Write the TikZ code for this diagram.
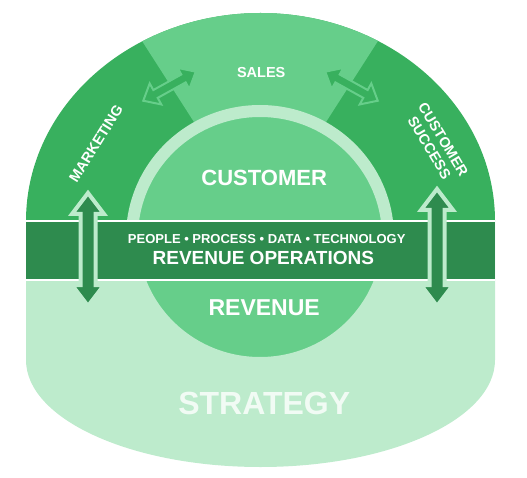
\documentclass[tikz,border=0pt]{standalone}
\usepackage{fontspec}
\setmainfont{Liberation Sans}
\usepackage{tikz}
\definecolor{secdark}{HTML}{38B05E}
\definecolor{seclight}{HTML}{66CE8A}
\definecolor{bandgreen}{HTML}{2E8B4E}
\definecolor{palegreen}{HTML}{BDEBCC}
\definecolor{strategytext}{HTML}{F1FBF4}

\begin{document}
\begin{tikzpicture}[x=1pt, y=1pt,
		lbl/.style={text=white, inner sep=0pt, font=\bfseries\fontsize{#1}{#1}\selectfont},
		pics/twoway/.style n args={4}{code={
			\filldraw (-#1/2,0) -- ++(#4,#3) -- ++(0,#2-#3) -- (#1/2-#4,#2) -- ++(0,#3-#2) -- (#1/2,0) -- ++(-#4,-#3) -- ++(0,#3-#2) -- (-#1/2+#4,-#2) -- ++(0,#2-#3) -- cycle;
		}}]
		\useasboundingbox (0,0) rectangle (527,477);
		\fill[palegreen] (26,256) -- (26,117) arc[start angle=180, end angle=360, x radius=234.5, y radius=107] -- (495,256) -- cycle;
		\fill[secdark] (26,256) arc[start angle=180, end angle=0, x radius=234.5, y radius=208] -- cycle;
		\begin{scope}
			\clip (26,256) arc[start angle=180, end angle=0, x radius=234.5, y radius=208] -- cycle;
			\fill[seclight] (260,252) -- (101,500) -- (419,500) -- cycle;
		\end{scope}
		\pic (mkt-sales) [rotate=29, fill=secdark, draw=seclight, line width=2] at (169.5,390.8) {twoway={60}{4.5}{12}{14}};
		\pic (sales-cs) [rotate=-29, fill=secdark, draw=seclight, line width=2] at (351.5,390.8) {twoway={60}{4.5}{12}{14}};
		\draw[palegreen, line width=12, fill=seclight] (260,240) ellipse[x radius=128, y radius=126];
		\fill[bandgreen] (26,197) rectangle (495,256);
		\draw[white, line width=1.5] (26,256) -- (495,256) (26,197) -- (495,197);
		\pic (mkt-ops) [rotate=90, fill=bandgreen, draw=palegreen, line width=4] at (88,227.5) {twoway={113}{7.5}{16}{21}};
		\pic (cs-ops) [rotate=90, fill=bandgreen, draw=palegreen, line width=4] at (437,229.5) {twoway={117}{7.5}{16}{21}};
		\node[lbl=14.5] (sales) at (261.2,404.8) {SALES};
		\node[lbl=14.5, rotate=58] (marketing) at (96,333) {MARKETING};
		\node[lbl=14.5, rotate=-59, align=center, font=\bfseries\fontsize{14.5}{16}\selectfont] (success) at (436.3,333.3) {CUSTOMER\\SUCCESS};
		\node[lbl=22] (customer) at (264.2,299.5) {CUSTOMER};
		\node[lbl=13] (pillars) at (266.7,238) {PEOPLE \textbullet{} PROCESS \textbullet{} DATA \textbullet{} TECHNOLOGY};
		\node[lbl=19] (revops) at (263.3,219.3) {REVENUE OPERATIONS};
		\node[lbl=23] (revenue) at (264.2,169.5) {REVENUE};
		\node[lbl=32, text=strategytext] (strategy) at (264.2,73.7) {STRATEGY};
	\end{tikzpicture}
\end{document}
